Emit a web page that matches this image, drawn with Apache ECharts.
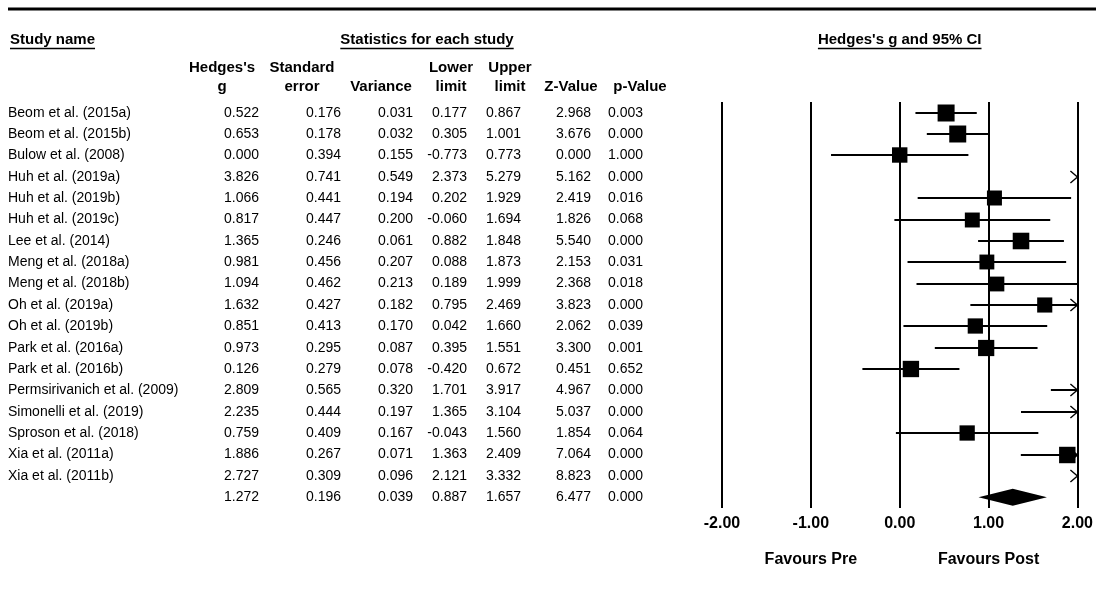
<!DOCTYPE html>
<html>
<head>
<meta charset="utf-8">
<script src="https://cdn.jsdelivr.net/npm/echarts@6/dist/echarts.min.js"></script>
<style>
  html, body { margin: 0; padding: 0; background: #ffffff; }
  #chart { width: 1096px; height: 602px; }
</style>
</head>
<body>
<div id="chart"></div>
<script>
// ---- Study-level statistics ----
const studies = [
  'Beom et al. (2015a)', 'Beom et al. (2015b)', 'Bulow et al. (2008)',
  'Huh et al. (2019a)', 'Huh et al. (2019b)', 'Huh et al. (2019c)',
  'Lee et al. (2014)', 'Meng et al. (2018a)', 'Meng et al. (2018b)',
  'Oh et al. (2019a)', 'Oh et al. (2019b)', 'Park et al. (2016a)',
  'Park et al. (2016b)', 'Permsirivanich et al. (2009)', 'Simonelli et al. (2019)',
  'Sproson et al. (2018)', 'Xia et al. (2011a)', 'Xia et al. (2011b)'
];
const hedgesG  = [0.522, 0.653, 0.000, 3.826, 1.066, 0.817, 1.365, 0.981, 1.094, 1.632, 0.851, 0.973, 0.126, 2.809, 2.235, 0.759, 1.886, 2.727];
const stdError = [0.176, 0.178, 0.394, 0.741, 0.441, 0.447, 0.246, 0.456, 0.462, 0.427, 0.413, 0.295, 0.279, 0.565, 0.444, 0.409, 0.267, 0.309];
const variance = [0.031, 0.032, 0.155, 0.549, 0.194, 0.200, 0.061, 0.207, 0.213, 0.182, 0.170, 0.087, 0.078, 0.320, 0.197, 0.167, 0.071, 0.096];
const lowerLim = [0.177, 0.305, -0.773, 2.373, 0.202, -0.060, 0.882, 0.088, 0.189, 0.795, 0.042, 0.395, -0.420, 1.701, 1.365, -0.043, 1.363, 2.121];
const upperLim = [0.867, 1.001, 0.773, 5.279, 1.929, 1.694, 1.848, 1.873, 1.999, 2.469, 1.660, 1.551, 0.672, 3.917, 3.104, 1.560, 2.409, 3.332];
const zValue   = [2.968, 3.676, 0.000, 5.162, 2.419, 1.826, 5.540, 2.153, 2.368, 3.823, 2.062, 3.300, 0.451, 4.967, 5.037, 1.854, 7.064, 8.823];
const pValue   = [0.003, 0.000, 1.000, 0.000, 0.016, 0.068, 0.000, 0.031, 0.018, 0.000, 0.039, 0.001, 0.652, 0.000, 0.000, 0.064, 0.000, 0.000];

// ---- Pooled (random-effects) estimate ----
const pooledG = 1.272, pooledSE = 0.196, pooledVar = 0.039;
const pooledLower = 0.887, pooledUpper = 1.657, pooledZ = 6.477, pooledP = 0.000;

// ---- Effect-size axis ----
const axisMin = -2, axisMax = 2, axisStep = 1;
const sideLabels = [{ at: -1, text: 'Favours Pre' }, { at: 1, text: 'Favours Post' }];

// ---- Table columns ----
const columnHeaders = [
  ["Hedges's", 'g'], ['Standard', 'error'], ['', 'Variance'], ['Lower', 'limit'],
  ['Upper', 'limit'], ['', 'Z-Value'], ['', 'p-Value']
];
const columnValues = [
  hedgesG.concat(pooledG), stdError.concat(pooledSE), variance.concat(pooledVar),
  lowerLim.concat(pooledLower), upperLim.concat(pooledUpper),
  zValue.concat(pooledZ), pValue.concat(pooledP)
];

// ---- Layout (pixels) ----
const FONT = "'Liberation Sans', Arial, Helvetica, sans-serif";
const gridBox = { left: 722, right: 16, top: 102, bottom: 94 };
const colRight = [259, 341, 413, 467, 521, 591, 643];
const colHeaderX = [222, 302, 381, 451, 510, 571, 640];
const headerY1 = 68, headerY2 = 87, titleY = 40;
const nameLeft = 8;

const rowKeys = studies.map((s, i) => 'r' + i).concat('pooled');
const nameLabels = studies.concat('');

// Box size follows random-effects weight (DerSimonian-Laird tau^2)
function boxSizes() {
  const w = variance.map(v => 1 / v);
  const sw = w.reduce((a, b) => a + b, 0);
  const mean = w.reduce((a, wi, i) => a + wi * hedgesG[i], 0) / sw;
  const q = w.reduce((a, wi, i) => a + wi * Math.pow(hedgesG[i] - mean, 2), 0);
  const c = sw - w.reduce((a, wi) => a + wi * wi, 0) / sw;
  const tau2 = Math.max(0, (q - (w.length - 1)) / c);
  const wr = variance.map(v => 1 / (v + tau2));
  const wmax = Math.max.apply(null, wr);
  return wr.map(x => 17 * Math.sqrt(x / wmax));
}
const sizes = boxSizes();

function clamp(v) { return Math.max(axisMin, Math.min(axisMax, v)); }

function renderStudy(params, api) {
  const row = api.value(0), est = api.value(1), lo = api.value(2), hi = api.value(3), size = api.value(4);
  const children = [];
  const pL = api.coord([clamp(lo), row]);
  const pR = api.coord([clamp(hi), row]);
  const y = Math.round(pL[1]);
  if (hi > axisMin && lo < axisMax) {
    children.push({ type: 'line', shape: { x1: pL[0], y1: y, x2: pR[0], y2: y },
      style: { stroke: '#000', lineWidth: 2 } });
  }
  if (hi > axisMax) {
    children.push({ type: 'polyline',
      shape: { points: [[pR[0] - 7, y - 6], [pR[0], y], [pR[0] - 7, y + 6]] },
      style: { stroke: '#000', lineWidth: 1.4, fill: null } });
  }
  if (lo < axisMin) {
    children.push({ type: 'polyline',
      shape: { points: [[pL[0] + 7, y - 6], [pL[0], y], [pL[0] + 7, y + 6]] },
      style: { stroke: '#000', lineWidth: 1.4, fill: null } });
  }
  if (est >= axisMin && est <= axisMax) {
    const c = api.coord([est, row]);
    children.push({ type: 'rect',
      shape: { x: c[0] - size / 2, y: y - size / 2, width: size, height: size },
      style: { fill: '#000' } });
  }
  return { type: 'group', children: children };
}

function renderDiamond(params, api) {
  const row = api.value(0);
  const c = api.coord([api.value(1), row]);
  const l = api.coord([api.value(2), row]);
  const r = api.coord([api.value(3), row]);
  const h = 8.5;
  return { type: 'polygon',
    shape: { points: [[l[0], c[1]], [c[0], c[1] - h], [r[0], c[1]], [c[0], c[1] + h]] },
    style: { fill: '#000' } };
}

const hiddenCat = {
  type: 'category', data: rowKeys, inverse: true, gridIndex: 0,
  axisLine: { show: false }, axisTick: { show: false }, splitLine: { show: false }
};

const yAxes = [Object.assign({}, hiddenCat, { axisLabel: { show: false } })];
// study names, left aligned
yAxes.push(Object.assign({}, hiddenCat, {
  position: 'left', offset: gridBox.left - nameLeft,
  axisLabel: { interval: 0, margin: 0, align: 'left', color: '#000', fontFamily: FONT, fontSize: 14,
    formatter: (v, i) => nameLabels[i] }
}));
// numeric columns, right aligned
columnValues.forEach((vals, k) => {
  yAxes.push(Object.assign({}, hiddenCat, {
    position: 'left', offset: gridBox.left - colRight[k],
    axisLabel: { interval: 0, margin: 0, align: 'right', color: '#000', fontFamily: FONT, fontSize: 14,
      formatter: (v, i) => vals[i].toFixed(3) }
  }));
});

const chart = echarts.init(document.getElementById('chart'), null, { renderer: 'canvas' });

chart.setOption({
  backgroundColor: '#ffffff',
  animation: false,
  grid: [{ left: gridBox.left, right: gridBox.right, top: gridBox.top, bottom: gridBox.bottom, containLabel: false }],
  xAxis: [{
    type: 'value', min: axisMin, max: axisMax, interval: axisStep, gridIndex: 0,
    axisLine: { show: false }, axisTick: { show: false },
    splitLine: { show: true, showMinLine: true, showMaxLine: true, lineStyle: { color: '#000', width: 2 } },
    axisLabel: { margin: 8, color: '#000', fontFamily: FONT, fontSize: 16, fontWeight: 'bold',
      formatter: v => v.toFixed(2) }
  }],
  yAxis: yAxes,
  series: [
    {
      type: 'custom', xAxisIndex: 0, yAxisIndex: 0, clip: false,
      renderItem: renderStudy,
      encode: { x: [1, 2, 3], y: 0 },
      data: studies.map((s, i) => [i, hedgesG[i], lowerLim[i], upperLim[i], sizes[i]])
    },
    {
      type: 'custom', xAxisIndex: 0, yAxisIndex: 0, clip: false,
      renderItem: renderDiamond,
      encode: { x: [1, 2, 3], y: 0 },
      data: [[studies.length, pooledG, pooledLower, pooledUpper]]
    }
  ]
});

// ---- Headings, rules and side captions ----
const measureCtx = document.createElement('canvas').getContext('2d');
function textWidth(text, font) { measureCtx.font = font; return measureCtx.measureText(text).width; }
const boldFont = 'bold 15px ' + FONT;

function underlinedTitle(text, cx, align) {
  const w = textWidth(text, boldFont);
  const x0 = align === 'left' ? cx : cx - w / 2;
  return [
    { type: 'text', style: { text: text, x: x0, y: titleY, font: boldFont, fill: '#000',
      textAlign: 'left', textVerticalAlign: 'middle' } },
    { type: 'line', shape: { x1: x0, y1: titleY + 8.5, x2: x0 + w, y2: titleY + 8.5 },
      style: { stroke: '#000', lineWidth: 1.3 } }
  ];
}

const zeroX = chart.convertToPixel({ xAxisIndex: 0 }, 0);
let graphics = [
  { type: 'rect', shape: { x: 8, y: 7.5, width: 1088, height: 3 }, style: { fill: '#000' } }
];
graphics = graphics.concat(underlinedTitle('Study name', 10, 'left'));
graphics = graphics.concat(underlinedTitle('Statistics for each study', 427, 'center'));
graphics = graphics.concat(underlinedTitle("Hedges's g and 95% CI", zeroX, 'center'));

columnHeaders.forEach((h, k) => {
  [h[0], h[1]].forEach((t, j) => {
    if (!t) return;
    graphics.push({ type: 'text', style: { text: t, x: colHeaderX[k], y: j === 0 ? headerY1 : headerY2,
      font: boldFont, fill: '#000', textAlign: 'center', textVerticalAlign: 'middle' } });
  });
});

sideLabels.forEach(s => {
  graphics.push({ type: 'text', style: { text: s.text, x: chart.convertToPixel({ xAxisIndex: 0 }, s.at), y: 560,
    font: 'bold 16px ' + FONT, fill: '#000', textAlign: 'center', textVerticalAlign: 'middle' } });
});

chart.setOption({ graphic: { elements: graphics } });
</script>
</body>
</html>
